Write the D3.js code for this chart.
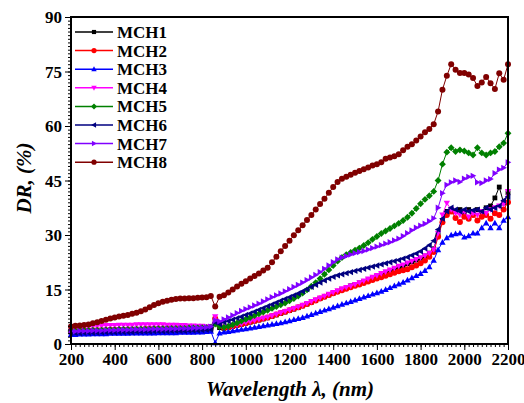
<!DOCTYPE html>
<html><head><meta charset="utf-8">
<script src="https://cdn.jsdelivr.net/npm/d3@7"></script>
<style>body{margin:0;background:#fff}svg{display:block}</style>
</head><body>
<svg id="c" width="524" height="403"></svg>
<script>
const wavelengths = d3.range(200, 2201, 20);
const seriesNames = ["MCH1","MCH2","MCH3","MCH4","MCH5","MCH6","MCH7","MCH8"];
const MCH1 = [3.3,3.3,3.4,3.4,3.4,3.5,3.5,3.5,3.6,3.6, 3.6,3.6,3.7,3.7,3.7,3.7,3.8,3.8,3.8,3.8, 3.9,3.9,3.9,3.9,4.0,4.0,4.0,4.0,4.1,4.1, 4.1,4.2,4.3,6.5,4.5,4.3,4.5,4.8,5.1,5.4, 5.7,6.0,6.3,6.6,6.9,7.2,7.6,8.0,8.4,8.8, 9.2,9.6,10.0,10.5,11.0,11.5,12.0,12.5,13.0,13.5, 14.0,14.5,15.0,15.5,16.0,16.4,16.8,17.2,17.7,18.2, 18.7,19.1,19.6,20.1,20.6,21.1,21.6,22.1,22.6,23.1, 23.6,24.2,25.0,26.2,30.0,34.0,36.5,37.0,36.5,37.0, 36.0,37.0,36.5,37.0,36.5,37.5,38.0,40.2,43.2,38.8,41.6];
const MCH2 = [3.6,3.6,3.7,3.7,3.7,3.8,3.8,3.8,3.8,3.9, 3.9,3.9,3.9,4.0,4.0,4.0,4.0,4.1,4.1,4.1, 4.1,4.1,4.2,4.2,4.2,4.2,4.3,4.3,4.3,4.3, 4.4,4.4,4.5,7.0,5.0,4.5,4.6,4.9,5.2,5.5, 5.8,6.1,6.4,6.7,7.0,7.3,7.7,8.1,8.5,8.9, 9.3,9.7,10.1,10.5,11.0,11.5,12.0,12.5,13.0,13.5, 14.0,14.4,14.8,15.2,15.6,16.0,16.4,16.8,17.2,17.6, 18.0,18.4,18.8,19.2,19.6,20.0,20.3,20.6,21.1,21.6, 22.2,23.0,24.0,25.3,29.5,33.5,35.5,36.5,34.7,33.6, 35.0,34.5,35.5,34.0,35.0,35.5,34.5,36.0,35.5,37.0,39.0];
const MCH3 = [2.6,2.6,2.7,2.7,2.7,2.8,2.8,2.8,2.8,2.9, 2.9,2.9,2.9,2.9,3.0,3.0,3.0,3.0,3.0,3.0, 3.1,3.1,3.1,3.1,3.1,3.2,3.2,3.2,3.2,3.3, 3.3,3.4,3.5,0.3,3.0,3.3,3.4,3.6,3.8,4.0, 4.2,4.4,4.6,4.8,5.0,5.2,5.4,5.6,5.8,6.1, 6.4,6.7,7.0,7.3,7.7,8.1,8.5,8.9,9.3,9.7, 10.1,10.5,10.9,11.3,11.7,12.1,12.5,12.9,13.3,13.7, 14.1,14.5,15.0,15.5,16.0,16.5,17.0,17.6,18.2,18.8, 19.4,20.2,21.2,23.0,25.9,28.0,29.2,30.0,30.3,30.5, 29.4,29.8,30.5,30.5,32.0,33.3,32.0,33.3,32.0,34.0,35.0];
const MCH4 = [4.4,4.5,4.6,4.7,4.8,4.9,5.0,5.0,5.1,5.1, 5.1,5.2,5.2,5.2,5.2,5.3,5.3,5.3,5.3,5.3, 5.3,5.3,5.2,5.2,5.2,5.1,5.1,5.0,5.0,4.9, 4.9,4.8,4.8,7.5,5.2,4.7,4.8,5.0,5.3,5.6, 5.9,6.2,6.5,6.8,7.1,7.4,7.8,8.2,8.6,9.0, 9.4,9.8,10.2,10.7,11.2,11.7,12.2,12.7,13.2,13.7, 14.2,14.7,15.2,15.6,16.0,16.4,16.9,17.4,17.9,18.4, 18.9,19.4,19.9,20.4,20.9,21.4,21.8,22.3,22.8,23.3, 23.8,24.3,25.0,26.0,30.5,35.5,38.8,37.0,36.0,35.5, 36.5,35.0,36.0,35.5,36.5,36.0,37.0,37.5,38.0,38.5,42.0];
const MCH5 = [3.6,3.6,3.7,3.7,3.7,3.8,3.8,3.8,3.9,3.9, 3.9,4.0,4.0,4.0,4.0,4.1,4.1,4.1,4.1,4.2, 4.2,4.2,4.2,4.3,4.3,4.3,4.3,4.4,4.4,4.4, 4.5,4.5,4.6,5.5,4.8,4.6,4.9,5.3,5.8,6.3, 6.8,7.3,7.8,8.3,8.8,9.3,9.8,10.3,10.8,11.3, 11.9,12.5,13.2,14.0,14.9,15.9,16.9,18.0,19.2,20.4, 21.6,22.8,23.8,24.6,25.2,25.8,26.4,27.1,27.9,28.8, 29.6,30.4,31.1,31.8,32.5,33.2,34.0,34.9,36.0,37.3, 38.6,39.8,40.8,42.0,45.0,49.5,52.8,54.0,53.0,53.4, 53.1,52.6,52.0,54.0,52.6,52.0,52.6,53.0,54.3,55.3,58.0];
const MCH6 = [3.0,3.0,3.0,3.1,3.1,3.1,3.1,3.2,3.2,3.2, 3.2,3.3,3.3,3.3,3.3,3.4,3.4,3.4,3.4,3.5, 3.5,3.5,3.5,3.6,3.6,3.6,3.6,3.7,3.7,3.7, 3.8,3.9,4.0,6.0,5.5,6.0,6.3,6.7,7.1,7.5, 8.0,8.4,8.9,9.4,9.9,10.4,10.9,11.4,11.9,12.4, 12.9,13.4,13.9,14.5,15.1,15.7,16.3,16.9,17.5,18.0, 18.5,18.9,19.2,19.5,19.8,20.1,20.4,20.7,21.0,21.3, 21.6,21.9,22.2,22.5,22.8,23.1,23.5,23.9,24.4,24.9, 25.5,26.3,27.2,28.4,31.5,34.5,36.5,37.5,37.0,36.5, 37.0,36.5,36.8,37.0,36.5,37.5,37.0,37.5,38.0,39.5,40.5];
const MCH7 = [3.5,3.5,3.6,3.6,3.6,3.7,3.7,3.7,3.8,3.8, 3.8,3.9,3.9,3.9,4.0,4.0,4.0,4.0,4.1,4.1, 4.1,4.1,4.2,4.2,4.2,4.3,4.3,4.3,4.4,4.4, 4.5,4.6,4.8,6.5,6.2,6.8,7.3,7.9,8.5,9.1, 9.6,10.1,10.6,11.1,11.7,12.3,12.9,13.4,13.9,14.5, 15.1,15.7,16.3,16.9,17.6,18.3,19.0,19.8,20.7,21.6, 22.5,23.3,23.8,24.2,24.6,25.0,25.3,25.6,26.0,26.4, 26.8,27.2,27.6,28.0,28.5,29.0,29.7,30.5,31.3,32.0, 32.6,33.1,33.8,34.6,37.5,41.5,43.8,44.5,45.0,44.6, 45.5,46.0,46.3,44.5,44.3,45.0,45.4,47.0,48.0,48.5,50.0];
const MCH8 = [4.8,5.0,5.1,5.2,5.4,5.7,6.0,6.3,6.7,7.0, 7.3,7.6,7.8,8.0,8.3,8.6,9.0,9.5,10.1,10.7, 11.2,11.6,11.9,12.2,12.4,12.5,12.5,12.6,12.6,12.7, 12.8,12.9,13.2,10.3,13.0,13.4,14.2,15.0,15.8,16.6, 17.3,18.0,18.7,19.4,20.2,21.0,22.5,24.0,25.5,27.0, 28.4,29.9,31.3,32.7,34.1,35.5,37.0,38.5,40.0,41.6, 43.2,44.6,45.5,46.0,46.6,47.1,47.6,48.1,48.6,49.1, 49.5,50.0,51.0,51.3,51.7,52.2,53.3,54.3,55.0,56.0, 57.1,58.3,59.2,60.5,64.0,70.0,73.8,77.0,75.5,74.6, 74.6,74.2,73.2,71.0,72.0,73.5,71.8,70.2,74.5,72.7,77.0];
const xTicks = [200,400,600,800,1000,1200,1400,1600,1800,2000,2200];
const yTicks = [0,15,30,45,60,75,90];
const colors = ["#000000","#ff0000","#0000ff","#ff00ff","#008000","#000080","#8000ff","#800000"];
const shapes = ["square","circle","up","down","diamond","left","right","circle"];

const allSeries = [MCH1,MCH2,MCH3,MCH4,MCH5,MCH6,MCH7,MCH8];
const svg = d3.select("#c");
const L = 71, R = 508, T = 17, B = 344;
const x = d3.scaleLinear().domain([200,2200]).range([L,R]);
const y = d3.scaleLinear().domain([0,90]).range([B,T]);
const font = "'Liberation Serif','Times New Roman',serif";

function markerPath(shape, s) {
  const h = s;
  switch (shape) {
    case "square": return `M${-h*0.8},${-h*0.8}h${h*1.6}v${h*1.6}h${-h*1.6}Z`;
    case "circle": return d3.symbol(d3.symbolCircle, Math.PI*h*h)();
    case "diamond": return `M0,${-h*1.15}L${h*1.15},0L0,${h*1.15}L${-h*1.15},0Z`;
    case "up": return `M0,${-h*1.1}L${h*1.05},${h*0.8}L${-h*1.05},${h*0.8}Z`;
    case "down": return `M0,${h*1.1}L${h*1.05},${-h*0.8}L${-h*1.05},${-h*0.8}Z`;
    case "left": return `M${-h*1.1},0L${h*0.8},${-h*1.05}L${h*0.8},${h*1.05}Z`;
    case "right": return `M${h*1.1},0L${-h*0.8},${-h*1.05}L${-h*0.8},${h*1.05}Z`;
  }
}

const plot = svg.append("g");
const line = d3.line().x((d,i)=>x(wavelengths[i])).y(d=>y(d));
allSeries.forEach((vals, si) => {
  const g = plot.append("g");
  g.append("path").datum(vals).attr("d", line).attr("fill","none")
    .attr("stroke", colors[si]).attr("stroke-width",1);
  g.selectAll("path.m").data(vals).enter().append("path").attr("class","m")
    .attr("transform",(d,i)=>`translate(${x(wavelengths[i])},${y(d)})`)
    .attr("d", markerPath(shapes[si], 3.0)).attr("fill", colors[si]);
});

// axes
const xAxis = svg.append("g").attr("transform",`translate(0,${B})`)
  .call(d3.axisBottom(x).tickValues(xTicks).tickSize(6).tickFormat(d3.format("d")));
const xMinor = svg.append("g").attr("transform",`translate(0,${B})`)
  .call(d3.axisBottom(x).tickValues(d3.range(200,2201,20)).tickSize(3).tickFormat(""));
const yAxis = svg.append("g").attr("transform",`translate(${L},0)`)
  .call(d3.axisLeft(y).tickValues(yTicks).tickSize(6));
const yMinor = svg.append("g").attr("transform",`translate(${L},0)`)
  .call(d3.axisLeft(y).tickValues(d3.range(0,91,1)).tickSize(3).tickFormat(""));
[xAxis,xMinor,yAxis,yMinor].forEach(a=>{
  a.select(".domain").remove();
  a.selectAll("line").attr("stroke","#000").attr("stroke-width",1);
});
xAxis.selectAll("text").attr("font-family",font).attr("font-weight","bold")
  .attr("font-size",17).attr("fill","#000").attr("dy","0.85em").attr("y",7);
yAxis.selectAll("text").attr("font-family",font).attr("font-weight","bold")
  .attr("font-size",17).attr("fill","#000").attr("x",-9).attr("dy","0.34em");

svg.append("rect").attr("x",L).attr("y",T).attr("width",R-L).attr("height",B-T)
  .attr("fill","none").attr("stroke","#000").attr("stroke-width",2);

// titles
svg.append("text").attr("x",290).attr("y",396).attr("text-anchor","middle")
  .attr("font-family",font).attr("font-weight","bold").attr("font-style","italic")
  .attr("font-size",21).text("Wavelength λ, (nm)");
svg.append("text").attr("transform","translate(31,178) rotate(-90)").attr("text-anchor","middle")
  .attr("font-family",font).attr("font-weight","bold").attr("font-style","italic")
  .attr("font-size",21).text("DR, (%)");

// legend
const leg = svg.append("g");
seriesNames.forEach((n,i)=>{
  const yy = 32 + i*18.6;
  leg.append("line").attr("x1",75).attr("x2",113).attr("y1",yy).attr("y2",yy)
    .attr("stroke",colors[i]).attr("stroke-width",1.5);
  leg.append("path").attr("transform",`translate(94,${yy})`).attr("d",markerPath(shapes[i],2.6)).attr("fill",colors[i]);
  leg.append("text").attr("x",117).attr("y",yy).attr("dy","0.35em")
    .attr("font-family",font).attr("font-weight","bold").attr("font-size",17).text(n);
});
</script>
</body></html>
